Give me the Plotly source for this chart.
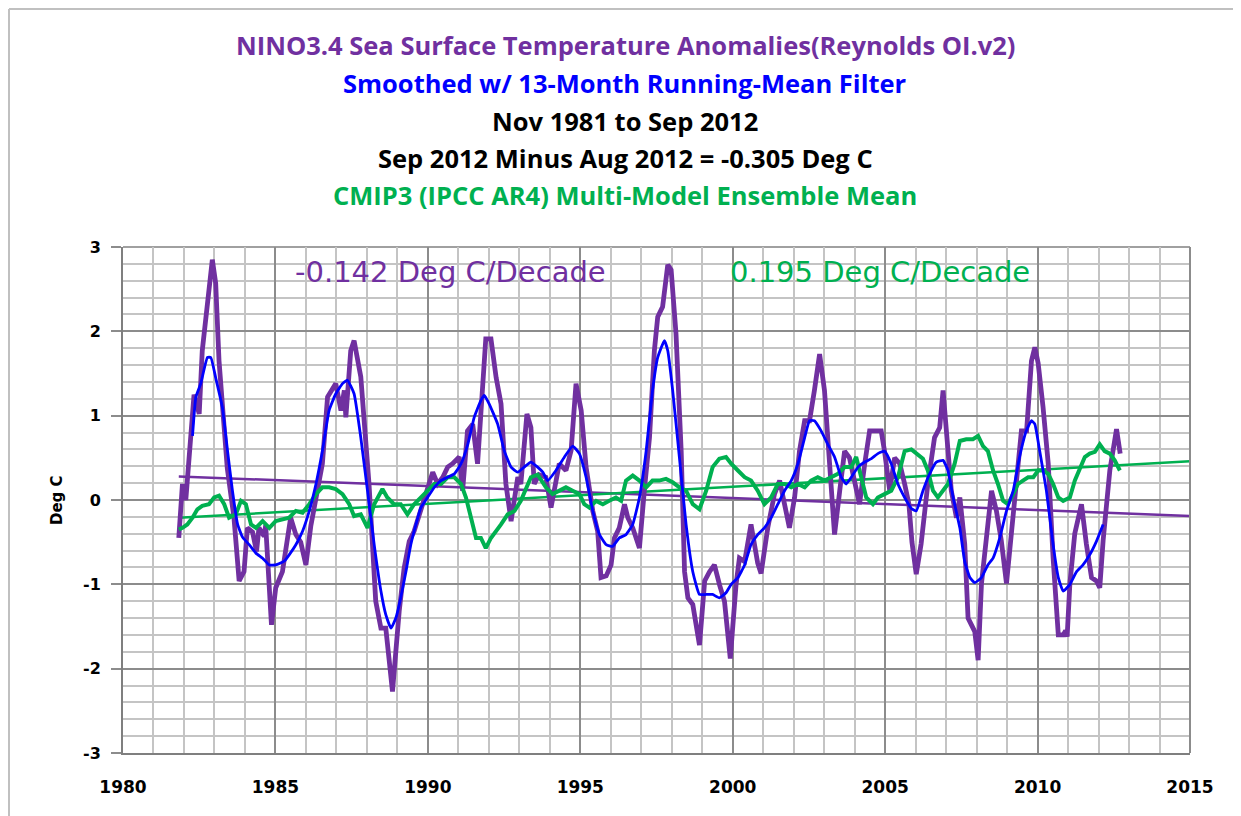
import plotly.graph_objects as go

# ---------------- data ----------------
nino_x = [1981.83, 1981.95, 1982.06, 1982.33, 1982.50, 1982.60, 1982.93, 1983.04, 1983.15, 1983.42,
          1983.64, 1983.81, 1983.97, 1984.08, 1984.25, 1984.38, 1984.46, 1984.63, 1984.68, 1984.87,
          1985.01, 1985.23, 1985.50, 1985.67, 1985.83, 1986.00, 1986.16, 1986.33, 1986.54, 1986.71,
          1986.98, 1987.15, 1987.26, 1987.31, 1987.47, 1987.58, 1987.80, 1988.07, 1988.29, 1988.46,
          1988.62, 1988.84, 1989.06, 1989.22, 1989.39, 1989.55, 1989.72, 1989.94, 1990.16, 1990.32,
          1990.49, 1990.65, 1990.81, 1991.03, 1991.14, 1991.30, 1991.47, 1991.63, 1991.80, 1991.90,
          1992.07, 1992.24, 1992.40, 1992.56, 1992.73, 1992.84, 1992.95, 1993.05, 1993.16, 1993.25,
          1993.38, 1993.49, 1993.65, 1993.87, 1994.04, 1994.20, 1994.31, 1994.53, 1994.70, 1994.86,
          1995.03, 1995.19, 1995.41, 1995.57, 1995.68, 1995.85, 1996.01, 1996.12, 1996.28, 1996.45,
          1996.56, 1996.72, 1996.94, 1997.10, 1997.27, 1997.43, 1997.54, 1997.70, 1997.87, 1997.98,
          1998.14, 1998.31, 1998.42, 1998.53, 1998.69, 1998.91, 1999.08, 1999.24, 1999.40, 1999.57,
          1999.73, 1999.92, 2000.11, 2000.22, 2000.39, 2000.60, 2000.82, 2000.93, 2001.15, 2001.37,
          2001.54, 2001.70, 2001.86, 2002.03, 2002.19, 2002.36, 2002.52, 2002.68, 2002.85, 2003.01,
          2003.18, 2003.34, 2003.51, 2003.67, 2003.83, 2004.00, 2004.16, 2004.33, 2004.49, 2004.71,
          2004.87, 2004.98, 2005.15, 2005.31, 2005.48, 2005.64, 2005.78, 2005.88, 2006.02, 2006.18,
          2006.40, 2006.62, 2006.79, 2006.90, 2007.01, 2007.17, 2007.34, 2007.45, 2007.61, 2007.72,
          2007.94, 2008.05, 2008.16, 2008.32, 2008.49, 2008.65, 2008.81, 2008.98, 2009.14, 2009.31,
          2009.47, 2009.64, 2009.80, 2009.91, 2010.02, 2010.18, 2010.35, 2010.51, 2010.68, 2010.84,
          2010.92, 2010.97, 2011.06, 2011.22, 2011.44, 2011.60, 2011.77, 2011.93, 2012.04, 2012.15,
          2012.37, 2012.59, 2012.71]
nino_y = [-0.45, 0.19, 0.00, 1.25, 1.02, 1.77, 2.85, 2.57, 1.65, 0.38,
          -0.21, -0.96, -0.85, -0.33, -0.38, -0.61, -0.33, -0.43, -0.30, -1.48,
          -1.04, -0.85, -0.21, -0.41, -0.50, -0.77, -0.31, 0.03, 0.43, 1.22,
          1.38, 1.06, 1.30, 0.98, 1.77, 1.89, 1.46, 0.19, -1.20, -1.52,
          -1.52, -2.27, -1.32, -0.81, -0.49, -0.37, -0.17, 0.11, 0.33, 0.19,
          0.27, 0.39, 0.43, 0.51, 0.11, 0.82, 0.90, 0.43, 1.34, 1.91,
          1.91, 1.45, 1.14, 0.19, -0.25, -0.01, 0.27, 0.19, 0.66, 1.02,
          0.86, 0.19, 0.30, 0.27, -0.09, 0.23, 0.43, 0.35, 0.59, 1.38,
          1.06, 0.39, -0.13, -0.37, -0.92, -0.90, -0.77, -0.45, -0.33, -0.05,
          -0.21, -0.33, -0.57, 0.11, 0.74, 1.77, 2.17, 2.29, 2.79, 2.73,
          1.97, 0.58, -0.85, -1.16, -1.24, -1.72, -0.96, -0.85, -0.77, -1.01,
          -1.20, -1.88, -1.00, -0.69, -0.73, -0.29, -0.75, -0.87, -0.33, 0.07,
          0.23, -0.05, -0.33, 0.03, 0.58, 0.94, 0.94, 1.30, 1.73, 1.30,
          0.50, -0.41, 0.11, 0.58, 0.50, 0.19, -0.05, 0.43, 0.82, 0.82,
          0.82, 0.58, 0.11, 0.50, 0.43, 0.19, -0.05, -0.50, -0.88, -0.52,
          0.19, 0.74, 0.86, 1.30, 0.82, 0.11, -0.21, 0.03, -0.52, -1.40,
          -1.56, -1.90, -0.99, -0.48, 0.11, -0.13, -0.48, -0.99, -0.44, 0.27,
          0.82, 0.82, 1.65, 1.81, 1.62, 1.10, 0.43, -0.69, -1.60, -1.60,
          -1.55, -1.62, -0.99, -0.40, -0.05, -0.52, -0.92, -0.96, -1.04, -0.48,
          0.35, 0.84, 0.55]

smooth_x = [1982.28, 1982.39, 1982.55, 1982.77, 1982.88, 1983.04, 1983.26, 1983.43, 1983.59, 1983.76,
            1983.92, 1984.14, 1984.36, 1984.58, 1984.80, 1985.01, 1985.15, 1985.30, 1985.45, 1985.67,
            1985.89, 1986.11, 1986.33, 1986.54, 1986.76, 1986.98, 1987.20, 1987.36, 1987.58, 1987.80,
            1988.02, 1988.24, 1988.46, 1988.62, 1988.79, 1988.95, 1989.11, 1989.28, 1989.44, 1989.61,
            1989.77, 1989.99, 1990.21, 1990.43, 1990.65, 1990.87, 1991.09, 1991.31, 1991.52, 1991.74,
            1991.85, 1992.01, 1992.29, 1992.51, 1992.73, 1992.95, 1993.16, 1993.38, 1993.60, 1993.77,
            1993.93, 1994.20, 1994.48, 1994.75, 1994.97, 1995.19, 1995.41, 1995.63, 1995.85, 1996.06,
            1996.28, 1996.50, 1996.72, 1996.94, 1997.16, 1997.37, 1997.54, 1997.76, 1997.87, 1998.03,
            1998.25, 1998.47, 1998.69, 1998.91, 1999.13, 1999.34, 1999.56, 1999.78, 1999.95, 2000.17,
            2000.39, 2000.60, 2000.82, 2001.04, 2001.26, 2001.48, 2001.70, 2001.92, 2002.14, 2002.36,
            2002.52, 2002.68, 2002.90, 2003.12, 2003.34, 2003.56, 2003.72, 2003.89, 2004.11, 2004.33,
            2004.55, 2004.76, 2004.98, 2005.20, 2005.42, 2005.64, 2005.86, 2006.02, 2006.24, 2006.46,
            2006.68, 2006.90, 2007.06, 2007.23, 2007.45, 2007.61, 2007.78, 2007.94, 2008.16, 2008.37,
            2008.54, 2008.76, 2008.98, 2009.20, 2009.41, 2009.63, 2009.80, 2009.91, 2010.07, 2010.29,
            2010.51, 2010.68, 2010.84, 2011.06, 2011.28, 2011.49, 2011.71, 2011.93, 2012.15]
smooth_y = [0.76, 1.22, 1.38, 1.69, 1.69, 1.45, 1.10, 0.58, 0.11, -0.29,
            -0.44, -0.53, -0.63, -0.69, -0.77, -0.77, -0.75, -0.72, -0.65, -0.53,
            -0.37, -0.13, 0.19, 0.58, 1.06, 1.26, 1.38, 1.42, 1.26, 0.74,
            0.11, -0.53, -1.08, -1.36, -1.52, -1.40, -1.16, -0.85, -0.53, -0.29,
            -0.09, 0.03, 0.15, 0.23, 0.27, 0.31, 0.43, 0.66, 0.98, 1.18,
            1.24, 1.14, 0.90, 0.58, 0.39, 0.33, 0.39, 0.45, 0.39, 0.33,
            0.23, 0.35, 0.51, 0.64, 0.55, 0.27, -0.13, -0.41, -0.53, -0.55,
            -0.45, -0.41, -0.29, 0.03, 0.58, 1.30, 1.69, 1.89, 1.77, 1.30,
            0.51, -0.29, -0.85, -1.12, -1.12, -1.12, -1.16, -1.10, -1.00, -0.92,
            -0.77, -0.53, -0.41, -0.33, -0.21, -0.05, 0.11, 0.23, 0.43, 0.74,
            0.94, 0.94, 0.82, 0.66, 0.51, 0.27, 0.19, 0.27, 0.39, 0.45,
            0.49, 0.55, 0.58, 0.43, 0.19, 0.03, -0.10, -0.13, 0.11, 0.31,
            0.45, 0.47, 0.35, 0.03, -0.33, -0.73, -0.92, -0.98, -0.92, -0.77,
            -0.69, -0.45, -0.13, 0.11, 0.51, 0.82, 0.94, 0.90, 0.58, 0.11,
            -0.53, -0.92, -1.08, -1.00, -0.85, -0.77, -0.65, -0.49, -0.29]

cmip_x = [1981.83, 1981.95, 1982.11, 1982.28, 1982.44, 1982.60, 1982.82, 1982.99, 1983.15, 1983.32,
          1983.48, 1983.70, 1983.87, 1984.03, 1984.20, 1984.36, 1984.58, 1984.80, 1985.01, 1985.23,
          1985.45, 1985.67, 1985.89, 1986.11, 1986.33, 1986.54, 1986.76, 1986.98, 1987.20, 1987.42,
          1987.58, 1987.80, 1988.02, 1988.24, 1988.51, 1988.67, 1988.89, 1989.11, 1989.33, 1989.55,
          1989.77, 1989.99, 1990.21, 1990.43, 1990.65, 1990.87, 1991.09, 1991.25, 1991.42, 1991.58,
          1991.74, 1991.90, 1992.07, 1992.24, 1992.40, 1992.62, 1992.84, 1993.05, 1993.22, 1993.38,
          1993.60, 1993.87, 1994.09, 1994.31, 1994.53, 1994.75, 1994.97, 1995.13, 1995.30, 1995.52,
          1995.74, 1995.95, 1996.17, 1996.34, 1996.50, 1996.72, 1996.94, 1997.16, 1997.37, 1997.59,
          1997.81, 1998.03, 1998.25, 1998.47, 1998.69, 1998.91, 1999.13, 1999.34, 1999.56, 1999.78,
          1999.95, 2000.17, 2000.39, 2000.60, 2000.82, 2001.04, 2001.26, 2001.48, 2001.70, 2001.92,
          2002.14, 2002.36, 2002.57, 2002.79, 2003.01, 2003.23, 2003.45, 2003.67, 2003.89, 2004.05,
          2004.22, 2004.38, 2004.60, 2004.76, 2004.98, 2005.20, 2005.42, 2005.64, 2005.86, 2006.02,
          2006.24, 2006.40, 2006.57, 2006.73, 2006.90, 2007.06, 2007.28, 2007.45, 2007.66, 2007.88,
          2008.05, 2008.21, 2008.37, 2008.54, 2008.70, 2008.87, 2009.03, 2009.20, 2009.36, 2009.52,
          2009.69, 2009.86, 2010.02, 2010.18, 2010.35, 2010.51, 2010.68, 2010.84, 2011.06, 2011.22,
          2011.39, 2011.55, 2011.71, 2011.88, 2012.04, 2012.20, 2012.37, 2012.53, 2012.70]
cmip_y = [-0.35, -0.33, -0.29, -0.21, -0.11, -0.07, -0.05, 0.03, 0.05, -0.05,
          -0.21, -0.17, -0.01, -0.05, -0.29, -0.33, -0.25, -0.33, -0.25, -0.23,
          -0.21, -0.13, -0.15, -0.05, 0.07, 0.15, 0.15, 0.13, 0.07, -0.05,
          -0.19, -0.17, -0.33, -0.05, 0.13, 0.03, -0.05, -0.05, -0.17, -0.05,
          0.03, 0.11, 0.19, 0.19, 0.27, 0.27, 0.19, 0.03, -0.21, -0.45,
          -0.45, -0.57, -0.45, -0.37, -0.29, -0.17, -0.13, -0.01, 0.15, 0.27,
          0.30, 0.15, 0.07, 0.11, 0.15, 0.11, 0.07, -0.05, -0.09, -0.01,
          -0.05, -0.01, 0.03, -0.01, 0.23, 0.29, 0.23, 0.15, 0.23, 0.23,
          0.25, 0.21, 0.15, 0.11, -0.05, -0.11, 0.11, 0.39, 0.49, 0.51,
          0.43, 0.35, 0.27, 0.23, 0.11, -0.05, 0.03, 0.19, 0.19, 0.15,
          0.19, 0.15, 0.23, 0.27, 0.23, 0.27, 0.31, 0.39, 0.39, 0.51,
          0.27, 0.03, -0.05, 0.03, 0.07, 0.11, 0.27, 0.58, 0.60, 0.55,
          0.49, 0.35, 0.11, 0.03, 0.11, 0.19, 0.43, 0.70, 0.72, 0.72,
          0.76, 0.64, 0.58, 0.35, 0.19, -0.01, -0.05, 0.07, 0.19, 0.23,
          0.27, 0.27, 0.35, 0.35, 0.31, 0.19, 0.03, -0.01, 0.03, 0.23,
          0.39, 0.51, 0.55, 0.57, 0.66, 0.58, 0.55, 0.47, 0.35]

trend_x = [1981.83, 2015.0]
nino_trend = [0.28, -0.19]
cmip_trend = [-0.21, 0.46]

x_ticks = [1980, 1985, 1990, 1995, 2000, 2005, 2010, 2015]
y_ticks = [-3, -2, -1, 0, 1, 2, 3]

title_lines = [
    ("NINO3.4 Sea Surface Temperature Anomalies(Reynolds OI.v2)", "#7030A0"),
    ("Smoothed w/ 13-Month Running-Mean Filter", "#0000FF"),
    ("Nov 1981 to Sep 2012", "#000000"),
    ("Sep 2012 Minus Aug 2012 = -0.305 Deg C", "#000000"),
    ("CMIP3 (IPCC AR4) Multi-Model Ensemble Mean", "#00B050"),
]
nino_trend_label = "-0.142 Deg C/Decade"
cmip_trend_label = "0.195 Deg C/Decade"

PURPLE = "#7030A0"
BLUE = "#0000FF"
GREEN = "#00B050"

fig = go.Figure()
fig.add_trace(go.Scatter(x=trend_x, y=nino_trend, mode="lines",
                         line=dict(color=PURPLE, width=2.5), hoverinfo="skip"))
fig.add_trace(go.Scatter(x=trend_x, y=cmip_trend, mode="lines",
                         line=dict(color=GREEN, width=2.5), hoverinfo="skip"))
fig.add_trace(go.Scatter(x=nino_x, y=nino_y, mode="lines",
                         line=dict(color=PURPLE, width=4.8)))
fig.add_trace(go.Scatter(x=cmip_x, y=cmip_y, mode="lines",
                         line=dict(color=GREEN, width=4)))
fig.add_trace(go.Scatter(x=smooth_x, y=smooth_y, mode="lines",
                         line=dict(color=BLUE, width=2.8, shape="spline", smoothing=0.4)))

# page has an 8px body margin; positions below are in screenshot pixels
OFF = 8
W, H = 1241 - OFF, 816 - OFF
L, R, T, B = 123 - OFF, 1190 - OFF, 247 - OFF, 753 - OFF
pw, ph = R - L, B - T

def px_to_paper_x(px):
    return (px - OFF - L) / pw

def py_to_paper_y(py):
    return (B - (py - OFF)) / ph

annotations = []
title_y = [45, 83, 121, 158, 195]
for (txt, col), yy in zip(title_lines, title_y):
    annotations.append(dict(text="<b>" + txt + "</b>", x=px_to_paper_x(625), y=py_to_paper_y(yy),
                            xref="paper", yref="paper", xanchor="center", yanchor="middle",
                            showarrow=False, font=dict(family="Open Sans", size=25.5, color=col)))

annotations.append(dict(text=nino_trend_label, x=1990.73, y=2.70, xref="x", yref="y",
                        xanchor="center", yanchor="middle", showarrow=False,
                        font=dict(family="DejaVu Sans", size=29, color=PURPLE)))
annotations.append(dict(text=cmip_trend_label, x=2004.83, y=2.70, xref="x", yref="y",
                        xanchor="center", yanchor="middle", showarrow=False,
                        font=dict(family="DejaVu Sans", size=29, color=GREEN)))
annotations.append(dict(text="<b>Deg C</b>", x=px_to_paper_x(57), y=0.5, xref="paper", yref="paper",
                        xanchor="center", yanchor="middle", showarrow=False, textangle=-90,
                        font=dict(family="DejaVu Sans", size=15, color="#000000")))

shapes = [
    dict(type="line", xref="paper", yref="paper", x0=px_to_paper_x(9), x1=px_to_paper_x(1260),
         y0=py_to_paper_y(9), y1=py_to_paper_y(9), line=dict(color="#c0c0c0", width=2)),
    dict(type="line", xref="paper", yref="paper", x0=px_to_paper_x(9), x1=px_to_paper_x(9),
         y0=py_to_paper_y(9), y1=py_to_paper_y(830), line=dict(color="#c0c0c0", width=2)),
    dict(type="line", xref="paper", yref="paper", x0=1, x1=1, y0=0, y1=1,
         line=dict(color="#8c8c8c", width=2), layer="above"),
    dict(type="line", xref="paper", yref="paper", x0=0, x1=1, y0=1, y1=1,
         line=dict(color="#a0a0a0", width=2), layer="below"),
]

fig.update_layout(
    width=W, height=H,
    margin=dict(l=L, r=W - R, t=T, b=H - B, pad=0),
    paper_bgcolor="white", plot_bgcolor="white",
    showlegend=False,
    annotations=annotations,
    shapes=shapes,
    xaxis=dict(range=[1980, 2015], tickmode="array", tickvals=x_ticks,
               ticktext=[str(v) for v in x_ticks],
               showgrid=True, gridcolor="#8c8c8c", gridwidth=2,
               minor=dict(dtick=1, showgrid=True, gridcolor="#c4c4c4", gridwidth=2),
               showline=True, linecolor="#7f7f7f", linewidth=2,
               ticks="", zeroline=False, ticklabelstandoff=18,
               tickfont=dict(family="DejaVu Sans", size=17, color="#000000", weight="bold")),
    yaxis=dict(range=[-3, 3], tickmode="array", tickvals=y_ticks,
               ticktext=[str(v) for v in y_ticks],
               showgrid=True, gridcolor="#8c8c8c", gridwidth=2,
               minor=dict(dtick=0.2, tick0=0, showgrid=True, gridcolor="#c4c4c4", gridwidth=2),
               showline=True, linecolor="#7f7f7f", linewidth=2,
               ticks="outside", ticklen=10, tickcolor="#8c8c8c", tickwidth=2,
               zeroline=False, ticklabelstandoff=7,
               tickfont=dict(family="DejaVu Sans", size=16, color="#000000", weight="bold")),
)

fig.write_html("out.html")
